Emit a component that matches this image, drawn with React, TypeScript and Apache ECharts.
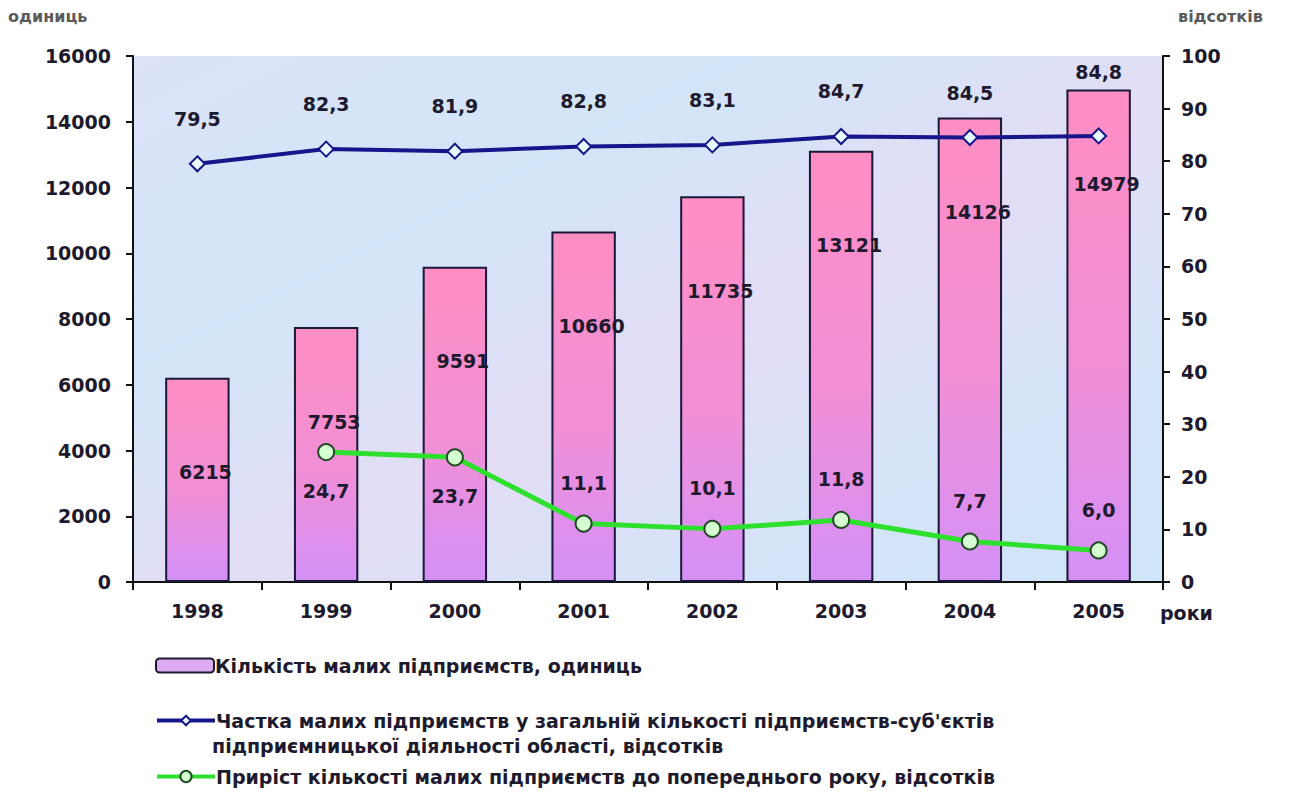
import React, { useEffect, useRef } from "react";
import * as echarts from "echarts";

const years = ["1998", "1999", "2000", "2001", "2002", "2003", "2004", "2005"];
const enterpriseCount = [6215, 7753, 9591, 10660, 11735, 13121, 14126, 14979];
const shareValues = [79.5, 82.3, 81.9, 82.8, 83.1, 84.7, 84.5, 84.8];
const growthValues = [null, 24.7, 23.7, 11.1, 10.1, 11.8, 7.7, 6.0];
const leftTicks = { min: 0, max: 16000, interval: 2000 };
const rightTicks = { min: 0, max: 100, interval: 10 };

const barName = "Кількість малих підприємств, одиниць";
const shareName = "Частка малих підприємств у загальній кількості підприємств-суб'єктів";
const shareName2 = "підприємницької діяльності області, відсотків";
const growthName = "Приріст кількості малих підприємств до попереднього року, відсотків";

const FONT = "DejaVu Sans";
const dark = "#1e1a2e";
const comma = (v: number) => v.toFixed(1).replace(".", ",");

export default function App() {
  const ref = useRef<HTMLDivElement>(null);
  useEffect(() => {
    if (!ref.current) return;
    const chart = echarts.init(ref.current, null, { renderer: "svg" });
    const labelFont = { fontFamily: FONT, fontWeight: "bold" as const, fontSize: 19, color: dark };
    chart.setOption({
      animation: false,
      backgroundColor: "#ffffff",
      grid: {
        left: 133,
        right: 127,
        top: 56,
        bottom: 210,
        show: true,
        borderWidth: 0,
        backgroundColor: new echarts.graphic.LinearGradient(0, 0, 1, 1, [
          { offset: 0, color: "#dce2f8" },
          { offset: 0.3, color: "#d3e5f8" },
          { offset: 0.55, color: "#e2ddf5" },
          { offset: 0.8, color: "#d4e4f8" },
          { offset: 1, color: "#cfe5f8" },
        ]),
      },
      graphic: [
        { type: "text", left: 8, top: 8, style: { text: "одиниць", font: `600 16px ${FONT}`, fill: "#5a5a5a" } },
        { type: "text", left: 1178, top: 8, style: { text: "відсотків", font: `600 16px ${FONT}`, fill: "#5a5a5a" } },
        { type: "text", left: 1160, top: 603, style: { text: "роки", font: `bold 19px ${FONT}`, fill: dark } },
        { type: "text", left: 212, top: 736, style: { text: shareName2, font: `bold 19px ${FONT}`, fill: dark } },
      ],
      legend: [
        {
          left: 150, top: 651, itemWidth: 58, itemHeight: 14, itemGap: 2,
          data: [{ name: barName, itemStyle: { color: "#dcaaf2", borderColor: dark, borderWidth: 2 } }],
          textStyle: { ...labelFont, padding: [0, 0, 0, -4] },
        },
        {
          left: 150, top: 706, itemWidth: 58, itemHeight: 12,
          data: [shareName],
          lineStyle: { width: 4 },
          textStyle: { ...labelFont, padding: [0, 0, 0, -4] },
        },
        {
          left: 150, top: 762, itemWidth: 58, itemHeight: 14,
          data: [growthName],
          lineStyle: { width: 4 },
          textStyle: { ...labelFont, padding: [0, 0, 0, -4] },
        },
      ],
      xAxis: {
        type: "category",
        data: years,
        boundaryGap: true,
        axisLine: { lineStyle: { color: "#111", width: 2 } },
        axisTick: { show: true, alignWithLabel: false, length: 8, lineStyle: { color: "#111", width: 2 } },
        axisLabel: { ...labelFont, margin: 19 },
      },
      yAxis: [
        {
          type: "value",
          ...leftTicks,
          axisLine: { show: true, lineStyle: { color: "#111", width: 2 } },
          axisTick: { show: true, length: 7, lineStyle: { color: "#111", width: 2 } },
          splitLine: { show: false },
          axisLabel: { ...labelFont, margin: 22, formatter: (v: number) => String(v) },
        },
        {
          type: "value",
          ...rightTicks,
          position: "right",
          axisLine: { show: true, lineStyle: { color: "#111", width: 2 } },
          axisTick: { show: true, length: 7, lineStyle: { color: "#111", width: 2 } },
          splitLine: { show: false },
          axisLabel: { ...labelFont, margin: 18, formatter: (v: number) => String(v) },
        },
      ],
      series: [
        {
          name: barName,
          type: "bar",
          data: enterpriseCount,
          barWidth: "50%",
          itemStyle: {
            color: new echarts.graphic.LinearGradient(0, 0, 0, 1, [
              { offset: 0, color: "#ff8ec4" },
              { offset: 0.55, color: "#f28fd6" },
              { offset: 1, color: "#d490f8" },
            ]),
            borderColor: "#1a1838",
            borderWidth: 2,
          },
          label: { show: true, position: "insideTop", distance: 85, offset: [8, 0], ...labelFont },
          z: 2,
        },
        {
          name: shareName,
          type: "line",
          yAxisIndex: 1,
          data: shareValues.map((v, i) =>
            i === shareValues.length - 1 ? { value: v, label: { distance: 46 } } : v
          ),
          symbol: "diamond",
          symbolSize: 15,
          lineStyle: { color: "#16168a", width: 4 },
          itemStyle: { color: "#e8fbff", borderColor: "#16168a", borderWidth: 2 },
          label: { show: true, position: "top", distance: 27, formatter: (p: any) => comma(p.value), ...labelFont },
          z: 4,
        },
        {
          name: growthName,
          type: "line",
          yAxisIndex: 1,
          data: growthValues.map((v, i) =>
            v === null ? null : i <= 2 ? { value: v, label: { position: "bottom", distance: 20 } } : v
          ),
          symbol: "circle",
          symbolSize: 16,
          lineStyle: { color: "#2ee02e", width: 5 },
          itemStyle: { color: "#d4ffd0", borderColor: "#1f4a22", borderWidth: 2 },
          label: { show: true, position: "top", distance: 22, formatter: (p: any) => comma(p.value), ...labelFont },
          z: 3,
        },
      ],
    });
    return () => chart.dispose();
  }, []);
  return <div ref={ref} style={{ position: "fixed", left: 0, top: 0, width: 1290, height: 792 }} />;
}
